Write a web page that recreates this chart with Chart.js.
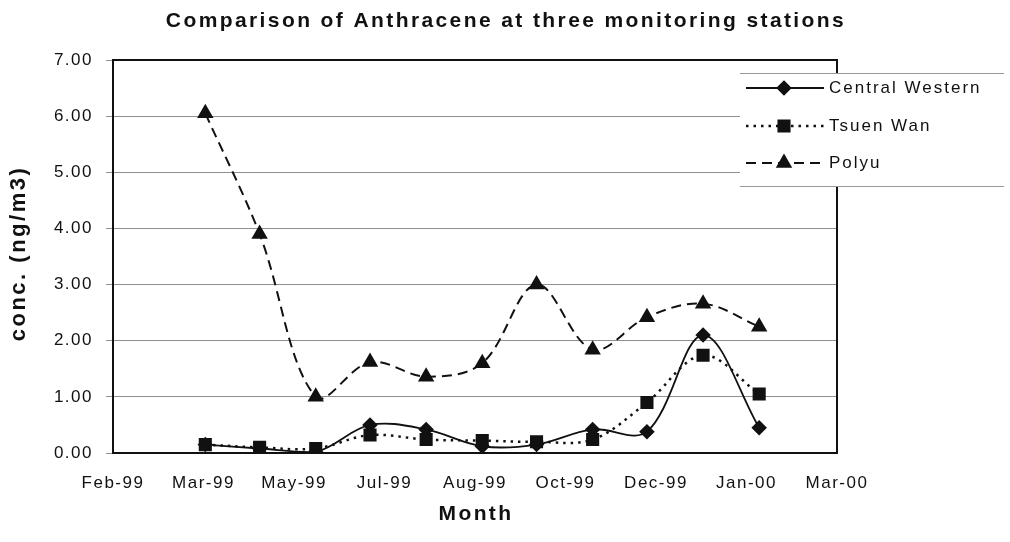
<!DOCTYPE html>
<html>
<head>
<meta charset="utf-8">
<script src="https://cdn.jsdelivr.net/npm/chart.js@4.4.0/dist/chart.umd.min.js"></script>
<style>
    html, body { margin: 0; padding: 0; background: #fff; }
    #wrap { width: 1010px; height: 542px; }
</style>
</head>
<body>
<div id="wrap"><canvas id="myChart" width="1010" height="542"></canvas></div>
<script>
// 軸の開始日 (目盛りは50日おき)
const axisStart = '1999-02-08';
const tickLabels = ['Feb-99', 'Mar-99', 'May-99', 'Jul-99', 'Aug-99', 'Oct-99', 'Dec-99', 'Jan-00', 'Mar-00'];

// 月ごとの測定日
const sampleDates = ['1999-03-31', '1999-04-30', '1999-05-31', '1999-06-30', '1999-07-31', '1999-08-31',
    '1999-09-30', '1999-10-31', '1999-11-30', '1999-12-31', '2000-01-31'];

const centralWestern = [0.15, 0.08, 0.02, 0.50, 0.42, 0.12, 0.15, 0.42, 0.38, 2.10, 0.45];
const tsuenWan = [0.15, 0.10, 0.08, 0.32, 0.24, 0.22, 0.20, 0.24, 0.90, 1.74, 1.05];
const polyu = [6.05, 3.90, 1.00, 1.62, 1.36, 1.60, 3.00, 1.84, 2.42, 2.66, 2.25];

const seriesNames = ['Central Western', 'Tsuen Wan', 'Polyu'];
const chartTitle = 'Comparison of Anthracene at three monitoring stations';
const xTitle = 'Month';
const yTitle = 'conc. (ng/m3)';

const dayMs = 86400000;
const toDay = s => (Date.parse(s) - Date.parse(axisStart)) / dayMs;
const toPoints = values => values.map((v, i) => ({ x: toDay(sampleDates[i]), y: v }));

const FONT = '"Liberation Sans", Arial, sans-serif';

// 枠線・タイトル・凡例を描くプラグイン
const framePlugin = {
    id: 'frame',
    beforeDraw(chart) {
        chart.ctx.letterSpacing = '1.5px';
    },
    beforeDatasetsDraw(chart) {
        const { ctx, chartArea: a } = chart;
        ctx.save();
        ctx.strokeStyle = '#111';
        ctx.lineWidth = 2;
        ctx.strokeRect(a.left, a.top, a.right - a.left, a.bottom - a.top);
        ctx.restore();
    },
    afterDraw(chart) {
        const { ctx, chartArea: a } = chart;
        ctx.save();
        ctx.fillStyle = '#111';

        // タイトル
        ctx.font = 'bold 21px ' + FONT;
        ctx.letterSpacing = '2.4px';
        ctx.textAlign = 'center';
        ctx.textBaseline = 'alphabetic';
        ctx.fillText(chartTitle, 506, 27);

        // x軸タイトル
        ctx.fillText(xTitle, (a.left + a.right) / 2 + 1, 520);

        // y軸タイトル
        ctx.save();
        ctx.font = 'bold 22px ' + FONT;
        ctx.letterSpacing = '2.5px';
        ctx.translate(25, (a.top + a.bottom) / 2 - 3);
        ctx.rotate(-Math.PI / 2);
        ctx.fillText(yTitle, 0, 0);
        ctx.restore();

        // 凡例
        ctx.fillStyle = '#fff';
        ctx.fillRect(740, 73, 270, 114);
        ctx.strokeStyle = '#9a9a9a';
        ctx.lineWidth = 1;
        ctx.beginPath();
        ctx.moveTo(740, 73.5); ctx.lineTo(1004, 73.5);
        ctx.moveTo(740, 186.5); ctx.lineTo(1004, 186.5);
        ctx.stroke();

        const rows = [88, 126, 163];
        chart.data.datasets.forEach((ds, i) => {
            const y = rows[i];
            ctx.strokeStyle = '#111';
            ctx.fillStyle = '#111';
            ctx.lineWidth = ds.borderWidth;
            ctx.setLineDash(ds.borderDash || []);
            ctx.beginPath();
            ctx.moveTo(746, y);
            ctx.lineTo(824, y);
            ctx.stroke();
            ctx.setLineDash([]);
            Chart.helpers.drawPoint(ctx, {
                pointStyle: ds.pointStyle,
                radius: ds.pointRadius,
                rotation: 0,
                borderWidth: 1
            }, 784, y);
            ctx.fillStyle = '#111';
            ctx.font = '17px ' + FONT;
            ctx.letterSpacing = '2px';
            ctx.textBaseline = 'middle';
            ctx.textAlign = 'left';
            ctx.fillText(ds.label, 829, y);
        });
        ctx.restore();
    }
};

const ctx = document.getElementById('myChart').getContext('2d');
const myChart = new Chart(ctx, {
    type: 'line',
    data: {
        datasets: [
            {
                label: seriesNames[0],
                data: toPoints(centralWestern),
                borderColor: '#111',
                backgroundColor: '#111',
                borderWidth: 1.8,
                pointStyle: 'rectRot',
                pointRadius: 6.5,
                tension: 0.35,
                order: 2
            },
            {
                label: seriesNames[1],
                data: toPoints(tsuenWan),
                borderColor: '#111',
                backgroundColor: '#111',
                borderWidth: 2.5,
                borderDash: [2.5, 5],
                pointStyle: 'rect',
                pointRadius: 7.5,
                tension: 0.35,
                order: 1
            },
            {
                label: seriesNames[2],
                data: toPoints(polyu),
                borderColor: '#111',
                backgroundColor: '#111',
                borderWidth: 2,
                borderDash: [10, 6],
                pointStyle: 'triangle',
                pointRadius: 7.5,
                tension: 0.35,
                order: 0
            }
        ]
    },
    options: {
        responsive: false,
        animation: false,
        devicePixelRatio: 1,
        layout: { padding: { left: 0, right: 173, top: 60, bottom: 0 } },
        plugins: {
            legend: { display: false },
            tooltip: { enabled: false },
            title: { display: false }
        },
        scales: {
            x: {
                type: 'linear',
                min: 0,
                max: 400,
                afterFit(scale) { scale.height = 89; },
                afterBuildTicks(scale) {
                    scale.ticks = tickLabels.map((t, i) => ({ value: i * 50 }));
                },
                ticks: {
                    autoSkip: false,
                    maxRotation: 0,
                    padding: 20,
                    color: '#111',
                    font: { family: FONT, size: 17 },
                    callback: (v, i) => tickLabels[i]
                },
                grid: { display: false, drawTicks: false },
                border: { display: false }
            },
            y: {
                min: 0,
                max: 7,
                afterFit(scale) { scale.width = 113; },
                ticks: {
                    stepSize: 1,
                    padding: 13,
                    color: '#111',
                    font: { family: FONT, size: 17 },
                    callback: v => v.toFixed(2)
                },
                grid: { color: '#8f8f8f', lineWidth: 1, tickLength: 7 },
                border: { display: false }
            }
        }
    },
    plugins: [framePlugin]
});
</script>
</body>
</html>
